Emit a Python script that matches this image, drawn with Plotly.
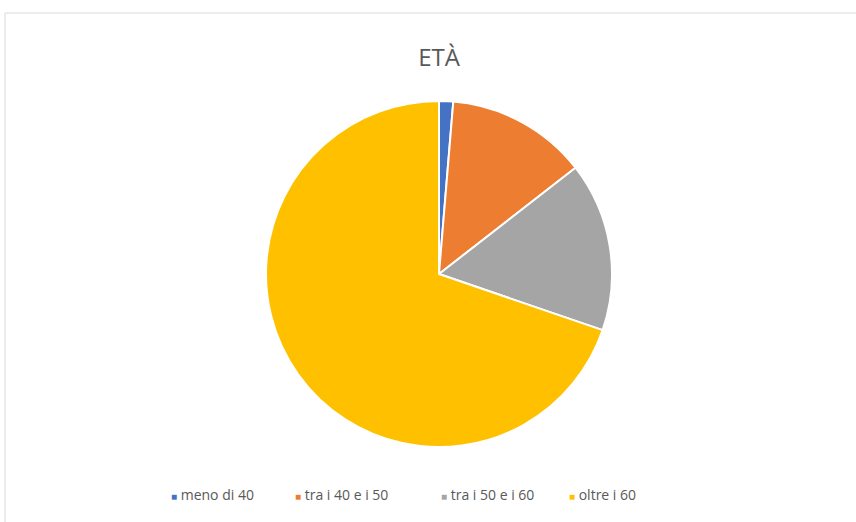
import plotly.graph_objects as go

labels = ["meno di 40", "tra i 40 e i 50", "tra i 50 e i 60", "oltre i 60"]
values = [1, 10, 12, 53]
colors = ["#4472C4", "#ED7D31", "#A5A5A5", "#FFC000"]
title_text = "ETÀ"

W, H = 856, 522
cx, cy, r = 439, 274, 173
legend_x = [169, 293, 439, 567]   # pixel x of each legend entry (layout)
legend_y = 494

fig = go.Figure(go.Pie(
    labels=labels,
    values=values,
    sort=False,
    direction="clockwise",
    rotation=0,
    textinfo="none",
    hoverinfo="label+value+percent",
    showlegend=False,
    marker=dict(colors=colors, line=dict(color="white", width=2)),
    domain=dict(x=[(cx - r) / W, (cx + r) / W], y=[(H - cy - r) / H, (H - cy + r) / H]),
))

annotations = []
for lab, col, px in zip(labels, colors, legend_x):
    annotations.append(dict(
        xref="paper", yref="paper", x=px / W, y=1 - legend_y / H,
        xanchor="left", yanchor="middle", showarrow=False,
        text=f"<span style='color:{col};font-size:10px'>■</span> {lab}",
        font=dict(size=14, color="#595959", family="Open Sans, sans-serif"),
    ))

fig.update_layout(
    width=W, height=H,
    margin=dict(l=0, r=0, t=0, b=0),
    paper_bgcolor="white",
    font=dict(family="Open Sans, sans-serif", color="#595959"),
    title=dict(text=title_text, x=439 / W, xanchor="center", y=1 - 58 / H, yanchor="middle",
               font=dict(size=24, color="#595959")),
    annotations=annotations,
    shapes=[dict(type="rect", xref="paper", yref="paper", x0=5 / W, x1=1.02, y0=-0.02, y1=1 - 13 / H,
                 line=dict(color="#D9D9D9", width=1), fillcolor="rgba(0,0,0,0)", layer="below")],
)

fig.write_html("out.html", config={"displayModeBar": False},
               post_script="document.body.style.margin='0px';")
